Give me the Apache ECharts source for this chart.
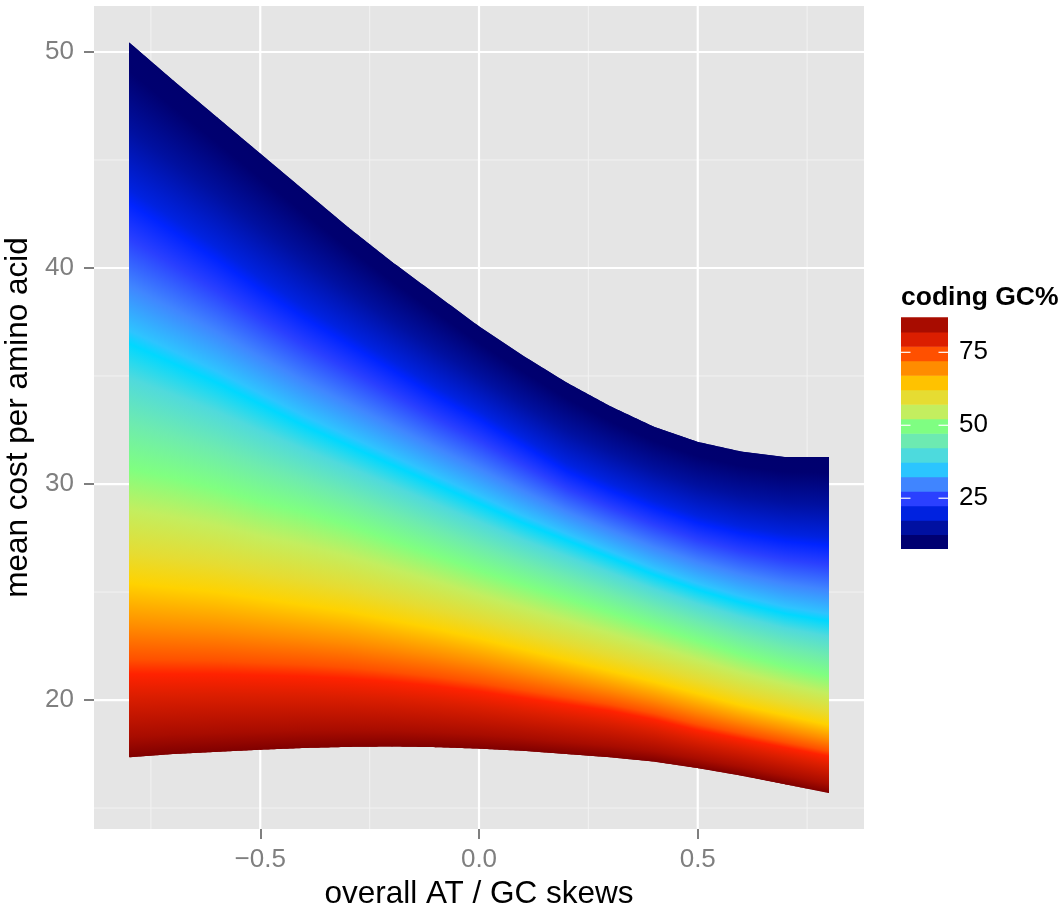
<!DOCTYPE html>
<html><head><meta charset="utf-8">
<script src="https://cdn.jsdelivr.net/npm/echarts@6/dist/echarts.min.js"></script>
<style>html,body{margin:0;padding:0;background:#fff;overflow:hidden}#chart{width:1064px;height:906px}</style>
</head><body><div id="chart"></div>
<script>
// ---- data ----
const skew = [-0.8,-0.7,-0.6,-0.5,-0.4,-0.3,-0.2,-0.1,0,0.1,0.2,0.3,0.4,0.5,0.6,0.7,0.8];
// coding GC% of each iso-line below
const isoGC = [7.6, 21.2, 36.2, 50, 63.2, 76.8, 87];
const costGC08 = [50.45,48.7,47.0,45.3,43.6,41.9,40.3,38.8,37.3,35.95,34.7,33.6,32.65,31.95,31.5,31.25,31.25];
const costGC21 = [43.0,41.7,40.4,39.0,37.7,36.5,35.3,34.1,33.0,31.8,30.6,29.7,28.9,28.2,27.7,27.35,27.15];
const costGC36 = [36.5,35.6,34.7,33.7,32.7,31.8,30.9,30.0,29.1,28.2,27.4,26.6,25.8,25.1,24.5,24.0,23.65];
const costGC50 = [30.7,30.3,29.8,29.2,28.7,28.1,27.4,26.7,26.0,25.35,24.7,24.05,23.4,22.75,22.1,21.55,21.1];
const costGC63 = [25.4,25.2,25.0,24.7,24.4,24.1,23.7,23.3,22.85,22.35,21.85,21.35,20.85,20.3,19.75,19.3,18.85];
const costGC77 = [21.2,21.2,21.2,21.15,21.1,21.0,20.85,20.65,20.4,20.1,19.8,19.5,19.1,18.6,18.2,17.8,17.4];
const costGC87 = [17.35,17.5,17.6,17.7,17.78,17.83,17.85,17.82,17.75,17.65,17.5,17.35,17.15,16.85,16.5,16.1,15.7];
// colour scale
const rampGC = [7.6,10,15,20,21.2,25,30,34.8,36.2,40,45,50,54.7,59.7,63.2,64.6,69.6,74.6,76.8,79.5,84.5,87];
const rampColor = ['#00006E','#000070','#0010A0','#0022E0','#0024FF','#2A40FF','#4086FF','#2EC4FF','#00D8FF','#50DADC','#6EEBAF','#80FF80','#C3EE5F','#E6DC32','#FFD200','#FFC300','#FF8C00','#FF5000','#FF2200','#DC1E00','#A80C00','#800000'];
const legendTicks = [25, 50, 75];
const xMajor = [-0.5, 0, 0.5];
const xMinor = [-0.75, -0.25, 0.25, 0.75];
const yMajor = [20, 30, 40, 50];
const yMinor = [15, 25, 35, 45];

const iso = [costGC08, costGC21, costGC36, costGC50, costGC63, costGC77, costGC87];
const X_MIN = -0.88, X_MAX = 0.88, Y_MIN = 14.03, Y_MAX = 52.13;
const FONT = 'Liberation Sans, Arial, Helvetica, sans-serif';

function hexToRgb(h){return [parseInt(h.substr(1,2),16),parseInt(h.substr(3,2),16),parseInt(h.substr(5,2),16)];}
function rampAt(g){
  if (g <= rampGC[0]) return rampColor[0];
  for (let k = 0; k < rampGC.length-1; k++) {
    if (g <= rampGC[k+1]) {
      const f = (g - rampGC[k]) / (rampGC[k+1] - rampGC[k]);
      const a = hexToRgb(rampColor[k]), b = hexToRgb(rampColor[k+1]);
      const c = a.map((v,j)=>Math.round(v + (b[j]-v)*f));
      return 'rgb(' + c.join(',') + ')';
    }
  }
  return rampColor[rampColor.length-1];
}

// Each data item is one skew interval; it is painted as pixel-wide columns,
// each column filled with a vertical gradient whose stops sit on the iso-lines.
function renderSurface(params, api){
  const i = api.value(2);
  const x0 = skew[i], x1 = skew[i+1];
  const pxA = api.coord([x0, 30])[0], pxB = api.coord([x1, 30])[0];
  const lastSeg = i === skew.length - 2;
  const children = [];
  const at = (arr, t) => arr[i] + (arr[i+1]-arr[i]) * t;
  const tOf = px => (px - pxA) / (pxB - pxA);
  const cStart = Math.floor(pxA), cEnd = Math.ceil(pxB);
  for (let c = cStart; c < cEnd; c++) {
    const cl = Math.max(c, pxA), cr = Math.min(c + 1, pxB);
    if (cr <= cl) continue;
    const tl = tOf(cl), tr = tOf(cr), tm = (tl + tr) / 2;
    const yTl = api.coord([x0, at(iso[0], tl)])[1];
    const yTr = api.coord([x0, at(iso[0], tr)])[1];
    const yBl = api.coord([x0, at(iso[6], tl)])[1];
    const yBr = api.coord([x0, at(iso[6], tr)])[1];
    const ext = (lastSeg && c === cEnd - 1) ? 0 : 1;
    const slopeT = (yTr - yTl) / (cr - cl), slopeB = (yBr - yBl) / (cr - cl);
    const xr = cr + ext;
    const pts = [[cl, yTl], [xr, yTl + slopeT * (xr - cl)], [xr, yBl + slopeB * (xr - cl)], [cl, yBl]];
    const ys = iso.map(a => api.coord([x0, at(a, tm)])[1]);
    const gy0 = Math.min(pts[0][1], pts[1][1]) , gy1 = Math.max(pts[2][1], pts[3][1]);
    const stops = [];
    for (let r = 0; r < rampGC.length; r++) {
      const g = rampGC[r];
      let k = 0;
      while (k < isoGC.length-2 && g > isoGC[k+1]) k++;
      const f = (g - isoGC[k]) / (isoGC[k+1] - isoGC[k]);
      const py = ys[k] + (ys[k+1]-ys[k]) * f;
      let off = (py - gy0) / (gy1 - gy0);
      off = Math.max(0, Math.min(1, off));
      stops.push({offset: off, color: rampColor[r]});
    }
    children.push({
      type: 'polygon', silent: true,
      shape: {points: pts},
      style: {fill: new echarts.graphic.LinearGradient(cl, gy0, cl, gy1, stops, true)}
    });
  }
  return {type: 'group', children};
}

function renderGrid(params, api){
  const v = api.value(0), dir = api.value(1), major = api.value(2);
  let p0, p1;
  if (dir === 0) { p0 = api.coord([v, Y_MIN]); p1 = api.coord([v, Y_MAX]); }
  else { p0 = api.coord([X_MIN, v]); p1 = api.coord([X_MAX, v]); }
  return {type: 'line', silent: true,
    shape: {x1: p0[0], y1: p0[1], x2: p1[0], y2: p1[1]},
    style: {stroke: major ? '#FFFFFF' : '#F2F2F2', lineWidth: major ? 2.2 : 1}};
}

const gridData = [];
xMinor.forEach(v => gridData.push([v, 0, 0]));
yMinor.forEach(v => gridData.push([v, 1, 0]));
xMajor.forEach(v => gridData.push([v, 0, 1]));
yMajor.forEach(v => gridData.push([v, 1, 1]));

const surfaceData = skew.slice(0, -1).map((x, i) => [x, costGC87[i], i]);

// legend (colour bar)
const LEG_X = 901, LEG_W = 47, LEG_TOP = 317.3, LEG_BOT = 549;
const gcMin = isoGC[0], gcMax = isoGC[isoGC.length-1];
const legY = g => LEG_BOT - (g - gcMin) * (LEG_BOT - LEG_TOP) / (gcMax - gcMin);
const NBIN = 16;
const legendEls = [];
const bw = (gcMax - gcMin) / NBIN;
for (let b = 0; b < NBIN; b++) {
  const gLo = gcMin + b*bw, gHi = gLo + bw;
  legendEls.push({type: 'rect', silent: true,
    shape: {x: LEG_X, y: legY(gHi), width: LEG_W, height: legY(gLo) - legY(gHi) + (b ? 0.6 : 0)},
    style: {fill: rampAt(gLo + bw/2)}});
}
legendTicks.forEach(t => {
  const y = legY(t);
  legendEls.push({type: 'line', silent: true, shape: {x1: LEG_X, y1: y, x2: LEG_X + 9.5, y2: y}, style: {stroke: '#fff', lineWidth: 1.2}});
  legendEls.push({type: 'line', silent: true, shape: {x1: LEG_X + LEG_W - 9.5, y1: y, x2: LEG_X + LEG_W, y2: y}, style: {stroke: '#fff', lineWidth: 1.2}});
  legendEls.push({type: 'text', silent: true, x: 959, y: y,
    style: {text: String(t), fill: '#000', font: '26px ' + FONT, verticalAlign: 'middle', align: 'left'}});
});
legendEls.push({type: 'text', silent: true, x: 901, y: 298,
  style: {text: 'coding GC%', fill: '#000', font: 'bold 26.5px ' + FONT, verticalAlign: 'middle', align: 'left'}});

const chart = echarts.init(document.getElementById('chart'), null, {renderer: 'canvas'});
chart.setOption({
  animation: false,
  backgroundColor: '#FFFFFF',
  grid: {left: 94, top: 6, width: 770, height: 823, show: true, backgroundColor: '#E5E5E5', borderWidth: 0,
    containLabel: false, outerBoundsMode: 'none'},
  xAxis: {
    type: 'value', min: X_MIN, max: X_MAX, position: 'bottom',
    axisLine: {show: false, onZero: false}, splitLine: {show: false},
    axisTick: {show: true, customValues: xMajor, length: 10, lineStyle: {color: '#7F7F7F', width: 2}},
    axisLabel: {customValues: xMajor, color: '#7F7F7F', fontSize: 26, fontFamily: FONT, margin: 18,
      formatter: v => v.toFixed(1).replace('-', '\u2212')},
    name: 'overall AT / GC skews', nameLocation: 'middle', nameGap: 41,
    nameTextStyle: {color: '#000', fontSize: 31.5, fontFamily: FONT}
  },
  yAxis: {
    type: 'value', min: Y_MIN, max: Y_MAX, position: 'left',
    axisLine: {show: false, onZero: false}, splitLine: {show: false},
    axisTick: {show: true, customValues: yMajor, length: 10, lineStyle: {color: '#7F7F7F', width: 2}},
    axisLabel: {customValues: yMajor, color: '#7F7F7F', fontSize: 26, fontFamily: FONT, margin: 20,
      formatter: v => String(Math.round(v))},
    name: 'mean cost per amino acid', nameLocation: 'middle', nameGap: 58, nameRotate: 90,
    nameTextStyle: {color: '#000', fontSize: 31.5, fontFamily: FONT}
  },
  series: [
    {type: 'custom', z: 1, clip: true, renderItem: renderGrid, data: gridData, encode: {x: 0}, silent: true},
    {type: 'custom', z: 3, clip: true, renderItem: renderSurface, data: surfaceData, encode: {x: 0, y: 1}, silent: true}
  ],
  graphic: legendEls
});
</script></body></html>
